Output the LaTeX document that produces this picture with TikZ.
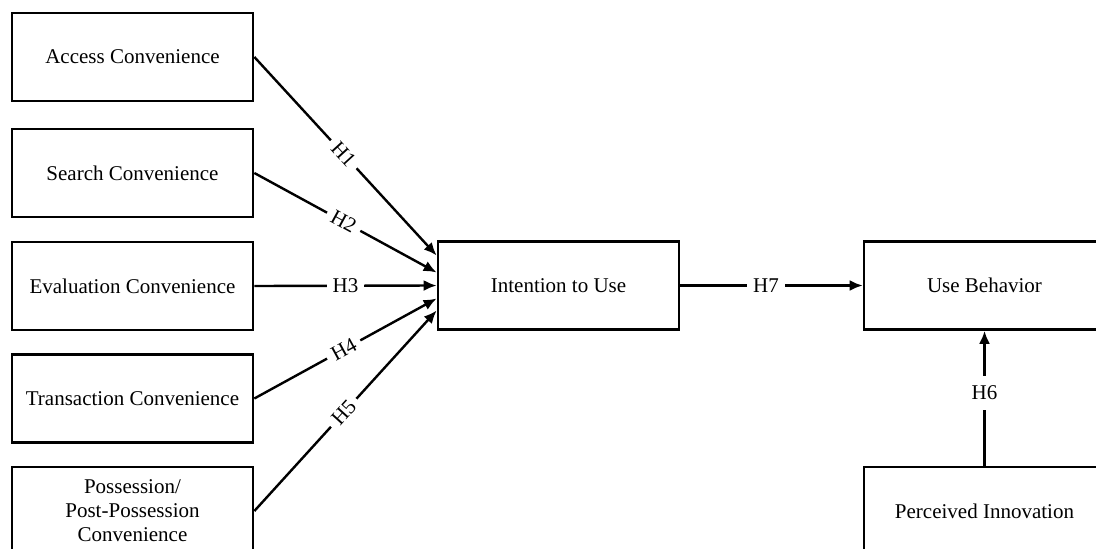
\documentclass[tikz,border=0pt]{standalone}
\usepackage{fontspec}
\setmainfont{Liberation Serif}
\usetikzlibrary{arrows.meta}
\begin{document}
\begin{tikzpicture}[x=1pt,y=-1pt,
  box/.style={draw, line width=2.7pt, rectangle, minimum width=241pt, minimum height=88pt,
    inner sep=0pt, align=center, font=\fontsize{21}{24}\selectfont},
  conn/.style={line width=2.4pt, -{Latex[length=13pt,width=11pt]}},
  lab/.style={fill=white, inner sep=6pt, font=\fontsize{21}{24}\selectfont}]
\clip (0,0) rectangle (1096,549);
\fill[white] (0,0) rectangle (1096,549);
\node[box] (acc) at (132.5,57) {Access Convenience};
\node[box] (sea) at (132.5,173) {Search Convenience};
\node[box] (eva) at (132.5,286) {Evaluation Convenience};
\node[box] (tra) at (132.5,398.5) {Transaction Convenience};
\node[box] (pos) at (132.5,511) {Possession/\\Post-Possession\\Convenience};
\node[box] (int) at (558.5,285.5) {Intention to Use};
\node[box] (ub) at (984.5,285.5) {Use Behavior};
\node[box] (pi) at (984.5,511) {Perceived Innovation};
\coordinate (in1) at ([yshift=30pt]int.west);
\coordinate (in2) at ([yshift=13pt]int.west);
\coordinate (in3) at (int.west);
\coordinate (in4) at ([yshift=-13pt]int.west);
\coordinate (in5) at ([yshift=-25pt]int.west);
\draw[conn] (acc.east) -- node[lab, sloped, pos=0.49] {H1} (in1);
\draw[conn] (sea.east) -- node[lab, sloped, pos=0.49] {H2} (in2);
\draw[conn] (eva.east) -- node[lab, pos=0.5] {H3} (in3);
\draw[conn] (tra.east) -- node[lab, sloped, pos=0.49] {H4} (in4);
\draw[conn] (pos.east) -- node[lab, sloped, pos=0.49] {H5} (in5);
\draw[conn] (int.east) -- node[lab, pos=0.47] {H7} (ub.west);
\draw[conn] (pi.north) -- node[lab, inner ysep=10pt, pos=0.54] {H6} (ub.south);
\end{tikzpicture}
\end{document}
